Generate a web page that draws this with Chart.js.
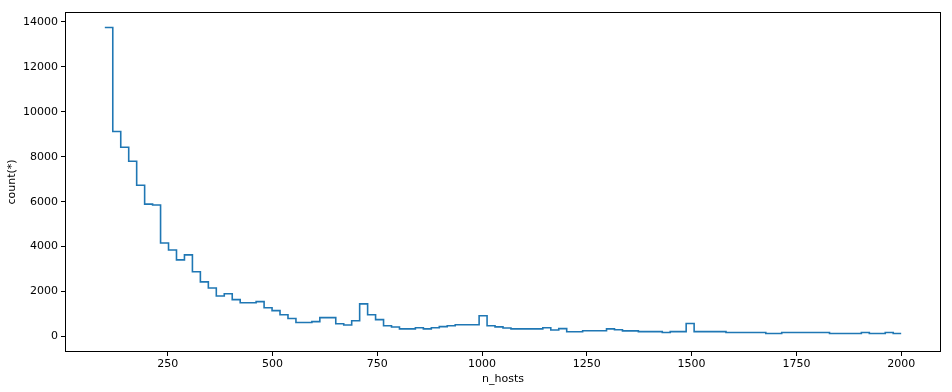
<!DOCTYPE html>
<html>
<head>
<meta charset="utf-8">
<script src="https://cdn.jsdelivr.net/npm/chart.js@4"></script>
<style>
  html, body { margin: 0; padding: 0; background: #fff; }
  #wrap { width: 952px; height: 392px; }
</style>
</head>
<body>
<div id="wrap"><canvas id="chart" width="952" height="392"></canvas></div>
<script>
// histogram of n_hosts, 100 bins from 100 to 2000
const binStart = 100;
const binWidth = 19;
const counts = [
  13750, 9120, 8420, 7800, 6730, 5890, 5850, 4160, 3850, 3410,
  3630, 2880, 2430, 2160, 1800, 1900, 1640, 1500, 1500, 1550,
  1280, 1150, 970, 800, 620, 620, 660, 840, 840, 570,
  510, 700, 1450, 970, 750, 480, 420, 340, 340, 390,
  340, 390, 440, 480, 520, 520, 520, 920, 480, 430,
  380, 340, 340, 340, 340, 390, 290, 350, 210, 210,
  255, 255, 255, 340, 300, 250, 250, 215, 215, 215,
  175, 215, 215, 580, 215, 215, 215, 215, 175, 175,
  175, 175, 175, 130, 130, 175, 175, 175, 175, 175,
  175, 130, 130, 130, 130, 175, 130, 130, 175, 130
];
const xTicks = [250, 500, 750, 1000, 1250, 1500, 1750, 2000];
const yTicks = [0, 2000, 4000, 6000, 8000, 10000, 12000, 14000];

// bin edges; last value repeated so the final step reaches 2000
const points = counts.map((c, i) => ({ x: binStart + i * binWidth, y: c }));
points.push({ x: binStart + counts.length * binWidth, y: counts[counts.length - 1] });

const frame = {
  id: 'frame',
  afterDatasetsDraw(chart) {
    const { ctx, chartArea: a } = chart;
    ctx.save();
    ctx.strokeStyle = '#000';
    ctx.lineWidth = 1;
    ctx.strokeRect(a.left + 0.5, a.top + 0.5, a.right - a.left - 1, a.bottom - a.top - 1);
    ctx.restore();
  }
};

const font = { family: 'DejaVu Sans', size: 11 };

new Chart(document.getElementById('chart'), {
  type: 'line',
  data: {
    datasets: [{
      data: points,
      borderColor: '#1f77b4',
      borderWidth: 1.6,
      pointRadius: 0,
      stepped: 'before',
      fill: false
    }]
  },
  options: {
    responsive: false,
    animation: false,
    layout: { padding: { top: 12, right: 11, left: 0, bottom: 0 } },
    plugins: { legend: { display: false }, tooltip: { enabled: false } },
    scales: {
      x: {
        type: 'linear',
        min: 5,
        max: 2095,
        afterBuildTicks: (s) => { s.ticks = xTicks.map(v => ({ value: v })); },
        afterFit: (s) => { s.height = 40; },
        grid: { drawOnChartArea: false, color: '#000', tickLength: 4 },
        border: { display: false },
        ticks: { color: '#000', font, padding: 2, maxRotation: 0, callback: (v) => String(v) },
        title: { display: true, text: 'n_hosts', color: '#000', font, padding: { top: 0, bottom: 6 } }
      },
      y: {
        type: 'linear',
        min: -690,
        max: 14440,
        afterBuildTicks: (s) => { s.ticks = yTicks.map(v => ({ value: v })); },
        afterFit: (s) => { s.width = 65; },
        grid: { drawOnChartArea: false, color: '#000', tickLength: 4 },
        border: { display: false },
        ticks: { color: '#000', font, padding: 3, callback: (v) => String(v) },
        title: { display: true, text: 'count(*)', color: '#000', font, padding: { top: 6, bottom: 0 } }
      }
    }
  },
  plugins: [frame]
});
</script>
</body>
</html>
